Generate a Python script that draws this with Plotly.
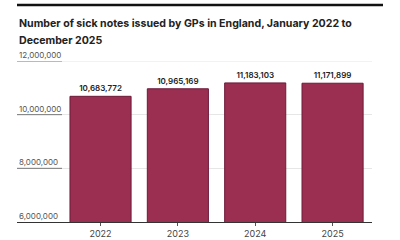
import plotly.graph_objects as go

years = ["2022", "2023", "2024", "2025"]
sick_notes = [10683772, 10965169, 11183103, 11171899]
y_ticks = [6000000, 8000000, 10000000, 12000000]
y_tick_labels = ["6,000,000", "8,000,000", "10,000,000", "12,000,000"]
title_lines = ["Number of sick notes issued by GPs in England, January 2022 to",
               "December 2025"]

W, H = 400, 240
ml, mr, mt, mb = 17, 28, 61, 18
ph = H - mt - mb
pw = W - ml - mr

fig = go.Figure()
fig.add_trace(go.Bar(
    x=years, y=sick_notes,
    width=0.79,
    marker=dict(color="#9a2f51", line=dict(color="#6e1a38", width=1)),
    text=[f"{v:,}" for v in sick_notes],
    textposition="outside",
    textfont=dict(family="Inter", size=8, color="#222222", weight=600),
    cliponaxis=False,
))

shapes = []
annotations = []
for t, lab in zip(y_ticks, y_tick_labels):
    if t != y_ticks[0]:
        shapes.append(dict(type="line", xref="paper", yref="y", x0=0, x1=45 / pw, y0=t, y1=t,
                           line=dict(color="#777777", width=1), layer="above"))
    annotations.append(dict(text=lab, xref="paper", yref="y", x=0, y=t, xanchor="left",
                            yanchor="bottom", showarrow=False, yshift=-1,
                            font=dict(family="Inter", size=8, color="#555555")))
shapes.append(dict(type="line", xref="paper", yref="y", x0=45 / pw, x1=1,
                   y0=y_ticks[-1], y1=y_ticks[-1], line=dict(color="#e6e6e6", width=1),
                   layer="below"))
top_y = (H - mb - 5) / ph
shapes.append(dict(type="line", xref="paper", yref="paper", x0=0, x1=(383 - ml) / pw,
                   y0=top_y, y1=top_y, line=dict(color="#111111", width=2.5)))
for i, line in enumerate(title_lines):
    cy = 24 + 16 * i
    annotations.append(dict(text="<b>" + line + "</b>", xref="paper", yref="paper",
                            x=0, y=(H - mb - cy) / ph, xanchor="left", yanchor="middle",
                            align="left", showarrow=False,
                            font=dict(family="Inter", size=10.6, color="#222222")))

fig.update_layout(
    width=W, height=H,
    margin=dict(l=ml, r=mr, t=mt, b=mb),
    paper_bgcolor="white", plot_bgcolor="white",
    showlegend=False,
    shapes=shapes,
    annotations=annotations,
    font=dict(family="Inter", color="#333333"),
    xaxis=dict(type="category", range=[-1.08, 3.51], showline=True, linecolor="#333333",
               linewidth=1, ticks="outside", ticklen=3, tickcolor="#555555",
               tickfont=dict(family="Inter", size=9, color="#444444"), showgrid=False,
               fixedrange=True, automargin=False),
    yaxis=dict(range=[6000000, 12000000], tickvals=y_ticks, showticklabels=False,
               showgrid=True, gridcolor="#e6e6e6", gridwidth=1, zeroline=False,
               showline=False, automargin=False),
)

fig.write_html("out.html")
